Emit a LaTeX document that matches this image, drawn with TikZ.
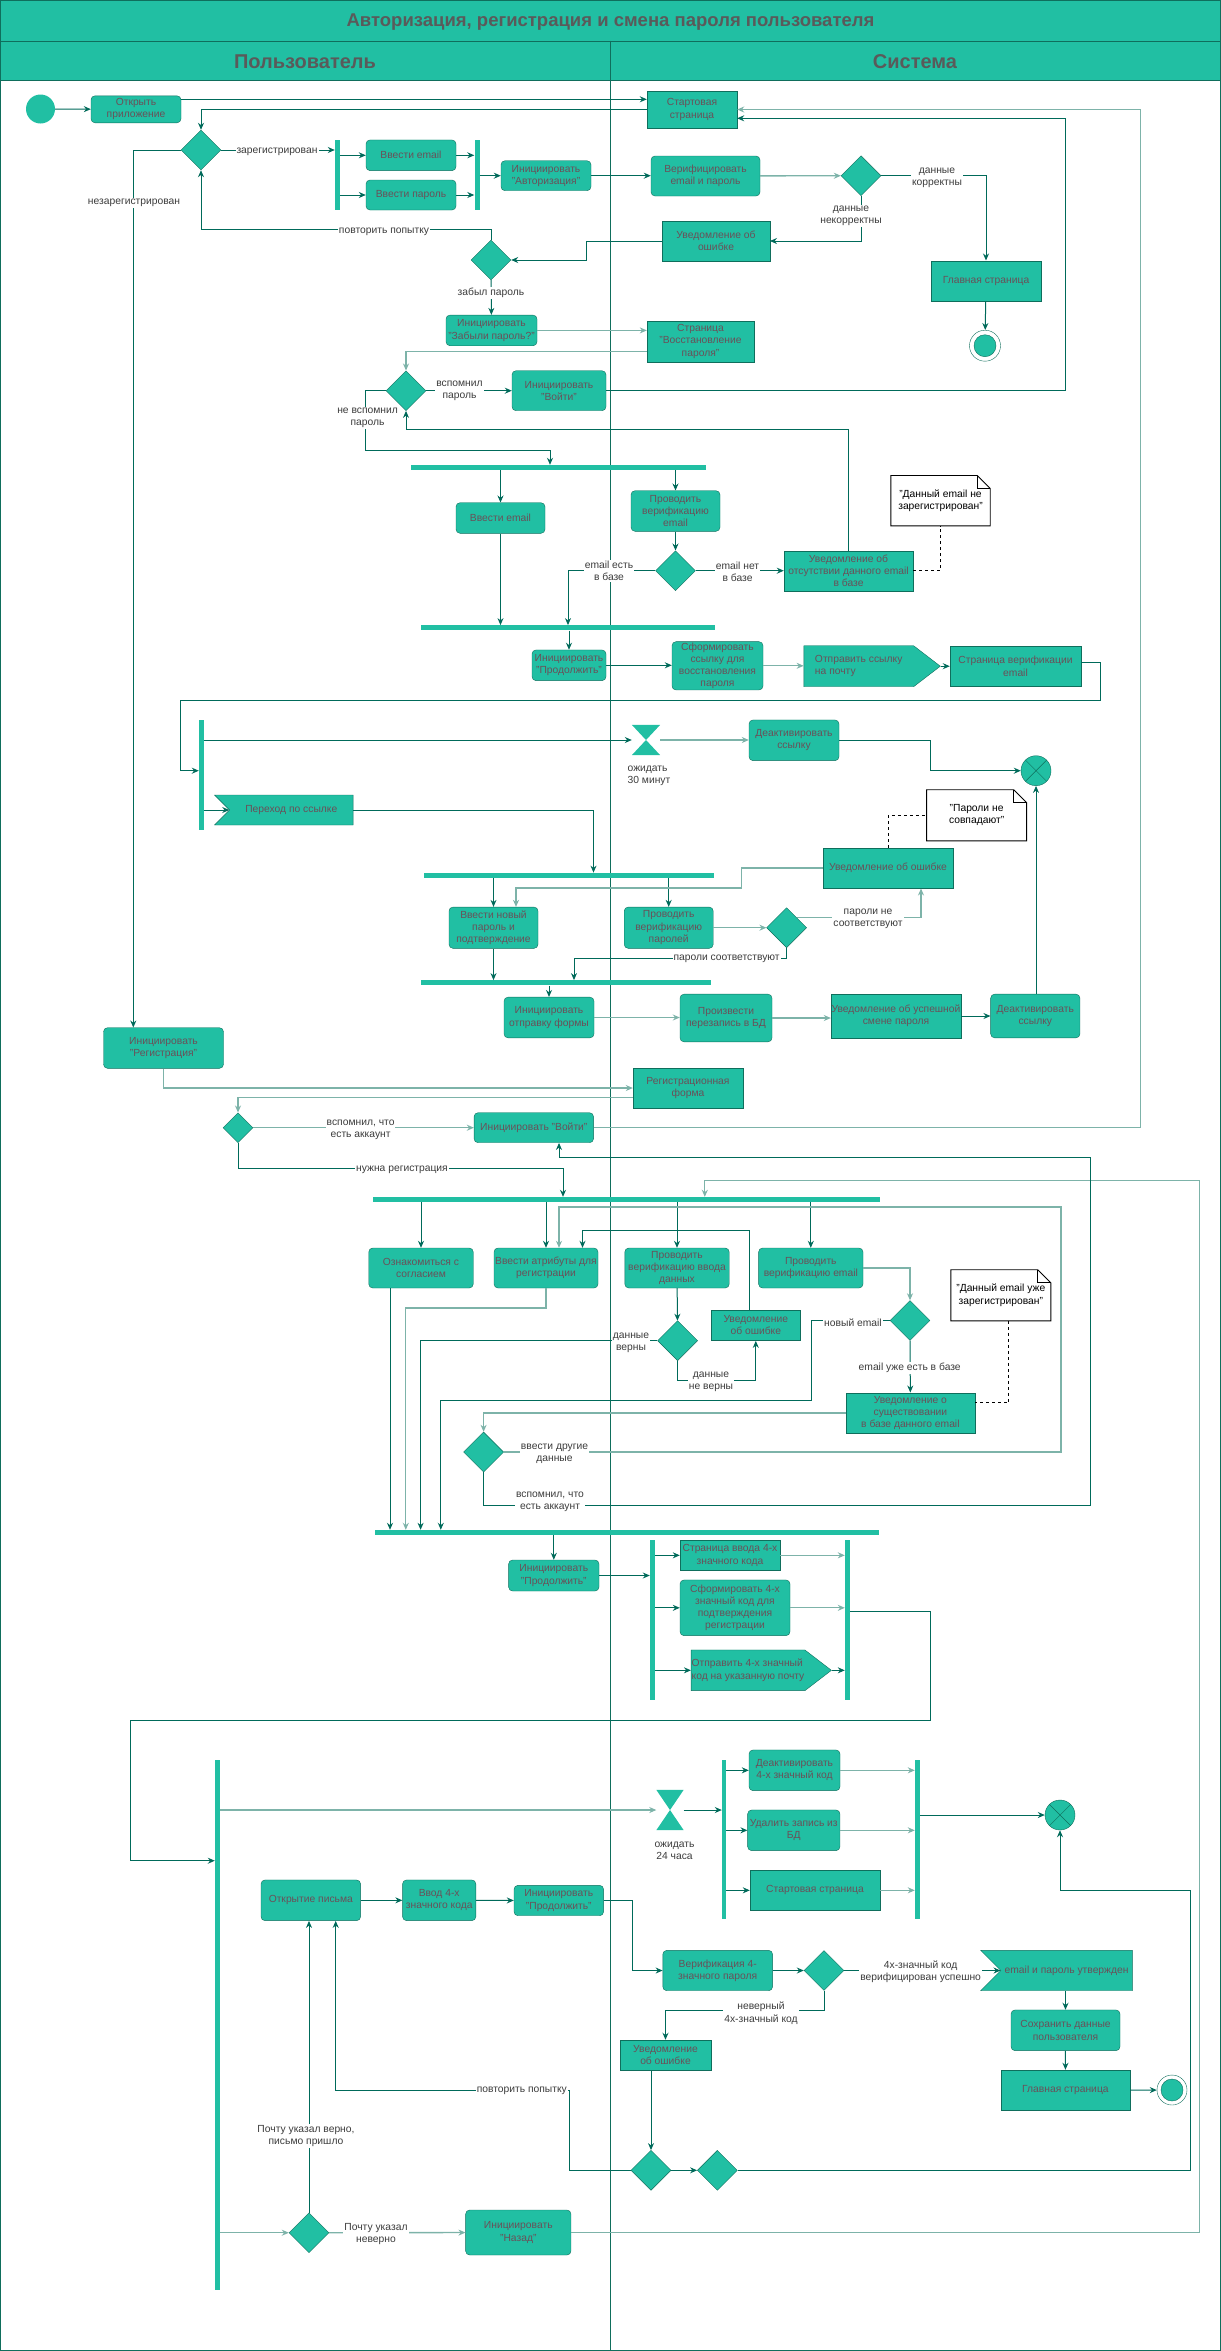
\documentclass[tikz,border=0pt]{standalone}
\usepackage{fontspec}
\setmainfont{Liberation Sans}
\usetikzlibrary{shapes.geometric,shapes.symbols,arrows.meta}
\definecolor{actfill}{HTML}{21BFA3}
\definecolor{actline}{HTML}{0F6E5C}
\definecolor{flowline}{HTML}{006A5A}
\definecolor{flowpale}{HTML}{7DB3A9}
\definecolor{acttext}{HTML}{6A5058}
\definecolor{headtext}{HTML}{5A5A5A}
\definecolor{lbltext}{HTML}{3C3C3C}

\begin{document}
\begin{tikzpicture}[x=1pt, y=-1pt,
  every node/.style={font=\fontsize{10.3}{12.3}\selectfont},
  act/.style 2 args={rectangle, rounded corners=4pt, draw=actline, fill=actfill, text=acttext,
    align=center, inner sep=0.5pt, minimum width=#1pt, minimum height=#2pt},
  sq/.style 2 args={rectangle, draw=actline, fill=actfill, text=acttext,
    align=center, inner sep=0.5pt, minimum width=#1pt, minimum height=#2pt},
  sendsig/.style 2 args={signal, signal to=east, signal from=nowhere, signal pointer angle=75,
    draw=actline, fill=actfill, text=acttext, align=left, inner sep=0.5pt,
    minimum width=#1pt, minimum height=#2pt},
  acceptsig/.style 2 args={signal, signal from=west, signal to=nowhere, signal pointer angle=90,
    draw=actline, fill=actfill, text=acttext, align=center, inner sep=0.5pt,
    minimum width=#1pt, minimum height=#2pt},
  dec/.style={diamond, aspect=1, draw=actline, fill=actfill, inner sep=0pt,
    minimum width=40pt, minimum height=40pt},
  bar/.style 2 args={rectangle, fill=actfill, inner sep=0pt, minimum width=#1pt, minimum height=#2pt},
  notebox/.style 2 args={rectangle, align=center, inner sep=1pt, minimum width=#1pt, minimum height=#2pt},
  wait/.style={rectangle, inner sep=0pt, minimum width=28pt, minimum height=30pt},
  final/.style={circle, draw=actline, fill=actfill, inner sep=0pt, minimum size=30pt},
  endnode/.style={circle, draw=actline, fill=white, inner sep=0pt, minimum size=31pt},
  flow/.style={draw=flowline, line width=1pt, -{Stealth[length=7pt,width=6pt]}},
  pale/.style={flow, draw=flowpale, line width=1.3pt},
  lbl/.style={fill=white, text=lbltext, align=center, inner sep=1pt}]
  \useasboundingbox (0,0) rectangle (1221,2351);
  % lanes and title
  \filldraw[draw=actline, fill=actfill] (0,0) rectangle (1221,40.7);
  \filldraw[draw=actline, fill=actfill] (0,40.7) rectangle (1221,80.3);
  \draw[actline] (610.6,40.7) -- (610.6,2351);
  \draw[actline, line width=1.5pt] (0,0) rectangle (1221,2351);
  \node[text=headtext, font=\bfseries\fontsize{18.5}{22}\selectfont] (title) at (610.5,22)
    {Авторизация, регистрация и смена пароля пользователя};
  \node[text=headtext, font=\bfseries\fontsize{20}{24}\selectfont] (user) at (305,62) {Пользователь};
  \node[text=headtext, font=\bfseries\fontsize{20}{24}\selectfont] (sys) at (915,62) {Система};

  % login
  \node[circle, fill=actfill, inner sep=0pt, minimum size=29pt] (init) at (40.5,109) {};
  \node[act={90}{27}] (open) at (136,109.3) {Открыть\\приложение};
  \node[sq={90}{37.6}] (start) at (692,109.5) {Стартовая\\страница};
  \node[dec] (dReg) at (201,150) {};
  \node[bar={5}{70}] (fEnter) at (337.5,175) {};
  \node[act={90}{30.7}] (inMail) at (411,155.3) {Ввести email};
  \node[act={90}{30}] (inPass) at (411,195) {Ввести пароль};
  \node[bar={5}{70}] (jEnter) at (477,175) {};
  \node[act={90}{30}] (auth) at (546,175.7) {Инициировать\\"Авторизация"};
  \node[act={109}{40}] (verAuth) at (705.5,176) {Верифицировать\\email и пароль};
  \node[dec] (dAuth) at (861,175.7) {};
  \node[sq={110}{40.6}] (main1) at (986,281) {Главная страница};
  \node[endnode] (end1) at (985,345.7) {};
  \filldraw[draw=actline, fill=actfill] (end1.center) circle[radius=11pt];
  \node[sq={107.5}{40.6}] (err1) at (716,241) {Уведомление об\\ошибке};
  \node[dec] (dRetry) at (491,260) {};
  \node[act={91}{30.7}] (forgot) at (491.5,330.4) {Инициировать\\"Забыли пароль?"};
  \node[sq={107}{41}] (restore) at (700.5,341.2) {Страница\\"Восстановление\\пароля"};
  \node[dec] (dRemember) at (406,390.7) {};
  \node[act={94}{40}] (login1) at (559,390.7) {Инициировать\\"Войти"};

  % password recovery
  \node[bar={295}{5}] (fMail) at (558.5,467.5) {};
  \node[act={89}{30.6}] (inMail2) at (500.5,518) {Ввести email};
  \node[act={89}{40.6}] (verMail) at (675.5,511) {Проводить\\верификацию\\email};
  \node[dec] (dMail) at (675.5,570.7) {};
  \node[sq={129}{40}] (noMail) at (848.5,570.7) {Уведомление об\\отсутствии данного email\\в базе};
  \node[notebox={99}{50}] (note1) at (940.5,500.7) {"Данный email не\\зарегистрирован"};
  \node[bar={294}{5}] (jMail) at (568,627.8) {};
  \node[act={74}{30.7}] (cont1) at (569,665.3) {Инициировать\\"Продолжить"};
  \node[act={91}{48.3}] (mkLink) at (717.5,665.8) {Сформировать\\ссылку для\\восстановления\\пароля};
  \node[sendsig={136.5}{41}] (sendLink) at (858.7,666.2) {Отправить ссылку\\на почту};
  \node[sq={131}{40.7}] (verPage) at (1015.5,666.3) {Страница верификации\\email};
  \node[bar={5}{110}] (fLink) at (201.5,775) {};
  \node[wait] (wait30) at (646,740) {};
  \node[act={90}{40.7}] (deact1) at (794,740.3) {Деактивировать\\ссылку};
  \node[final] (fin1) at (1036,770.7) {};
  \node[acceptsig={138.6}{30}] (follow) at (291.3,810) {Переход по ссылке};
  \node[bar={290}{5}] (fPass) at (568.5,875.3) {};
  \node[sq={130}{40.6}] (err2) at (888,868) {Уведомление об ошибке};
  \node[notebox={99.7}{50.7}] (note2) at (976.6,815.3) {"Пароли не\\совпадают"};
  \node[act={89}{41.3}] (newPass) at (493.5,927.7) {Ввести новый\\пароль и\\подтверждение};
  \node[act={89}{41.3}] (verPass) at (668.7,927.7) {Проводить\\верификацию\\паролей};
  \node[dec] (dPass) at (786.6,927.7) {};
  \node[bar={290}{5}] (jPass) at (565.8,982.8) {};
  \node[act={90}{40.7}] (submit) at (549,1017.5) {Инициировать\\отправку формы};
  \node[act={92}{47.7}] (rewrite) at (726,1018) {Произвести\\перезапись в БД};
  \node[sq={130}{43.7}] (okPass) at (896,1016) {Уведомление об успешной\\смене пароля};
  \node[act={89.3}{43.7}] (deact2) at (1035.3,1016) {Деактивировать\\ссылку};

  % registration
  \node[act={120}{40.6}] (reg) at (163.5,1048) {Инициировать\\"Регистрация"};
  \node[sq={110}{40.6}] (regForm) at (688,1088) {Регистрационная\\форма};
  \node[dec, minimum width=30pt, minimum height=30pt] (dHave) at (238,1127.7) {};
  \node[act={119.5}{30}] (login2) at (533.8,1127.7) {Инициировать "Войти"};
  \node[bar={507}{5}] (fReg) at (626.5,1199.5) {};
  \node[act={104.5}{40}] (agree) at (421,1268) {Ознакомиться с\\согласием};
  \node[act={104}{40}] (attrs) at (546,1268) {Ввести атрибуты для\\регистрации};
  \node[act={104.4}{40}] (verData) at (677,1268) {Проводить\\верификацию ввода\\данных};
  \node[act={104.4}{40}] (verMail2) at (810.8,1268) {Проводить\\верификацию email};
  \node[dec] (dData) at (677.6,1340.7) {};
  \node[sq={89.6}{30.7}] (err3) at (755.8,1325.3) {Уведомление\\об ошибке};
  \node[dec] (dNew) at (910,1320.5) {};
  \node[sq={129.2}{40.6}] (exists) at (910.4,1413) {Уведомление о\\существовании\\в базе данного email};
  \node[notebox={99.6}{50.7}] (note3) at (1000.8,1295.3) {"Данный email уже\\зарегистрирован"};
  \node[dec] (dOther) at (483.6,1452) {};
  \node[bar={504}{5}] (jReg) at (626.5,1532.5) {};
  \node[act={90.4}{31}] (cont2) at (553.8,1575.5) {Инициировать\\"Продолжить"};
  \node[bar={5}{160}] (fCode) at (652.5,1620) {};
  \node[sq={100}{30.7}] (codePage) at (730,1555.3) {Страница ввода 4-х\\значного кода};
  \node[act={110}{55.7}] (mkCode) at (735,1607.8) {Сформировать 4-х\\значный код для\\подтверждения\\регистрации};
  \node[sendsig={136}{40.7}] (sendCode) at (748,1670.3) {Отправить 4-х значный\\код на указанную почту};
  \node[bar={5}{160}] (jCode) at (847.5,1620) {};

  % confirmation code
  \node[bar={4.6}{530}] (fWait) at (217.3,2025) {};
  \node[wait, minimum width=27pt, minimum height=40pt] (wait24) at (670,1810) {};
  \node[bar={4}{159}] (fExp) at (724,1839.6) {};
  \node[act={91}{40.7}] (deactCode) at (794.5,1770.3) {Деактивировать\\4-х значный код};
  \node[act={92.3}{40.7}] (delRec) at (793.8,1830.3) {Удалить запись из\\БД};
  \node[sq={130}{40.7}] (start2) at (815,1890.3) {Стартовая страница};
  \node[bar={5}{159}] (jExp) at (917.5,1839.6) {};
  \node[final] (fin2) at (1060,1815) {};
  \node[act={99.6}{40.7}] (openMail) at (310.8,1900.3) {Открытие письма};
  \node[act={73.3}{40.7}] (inCode) at (439.2,1900.3) {Ввод 4-х\\значного кода};
  \node[act={89.6}{30.4}] (cont3) at (558.8,1900.5) {Инициировать\\"Продолжить"};
  \node[act={109.8}{40.4}] (verCode) at (717.7,1970.5) {Верификация 4-\\значного пароля};
  \node[dec] (dCode) at (824,1970.5) {};
  \node[acceptsig={151.8}{40.4}] (approved) at (1066.6,1970.5) {email и пароль утвержден};
  \node[act={109}{40.7}] (save) at (1065.5,2030.3) {Сохранить данные\\пользователя};
  \node[sq={129.2}{40.7}] (main2) at (1065.4,2090.3) {Главная страница};
  \node[endnode, minimum size=30pt] (end2) at (1172,2090) {};
  \filldraw[draw=actline, fill=actfill] (end2.center) circle[radius=11pt];
  \node[sq={91}{30.7}] (err4) at (665.5,2055.3) {Уведомление\\об ошибке};
  \node[dec] (dWrong) at (651,2170.3) {};
  \node[dec] (dMerge) at (717.3,2170.3) {};
  \node[dec] (dMailOk) at (309,2232.7) {};
  \node[act={105.3}{45}] (back) at (518.3,2232.5) {Инициировать\\"Назад"};

  % hourglasses, flow finals, notes
  \fill[actfill] (wait30.north west) -- (wait30.north east) -- (wait30.center) -- cycle;
  \fill[actfill] (wait30.south west) -- (wait30.south east) -- (wait30.center) -- cycle;
  \fill[actfill] (wait24.north west) -- (wait24.north east) -- (wait24.center) -- cycle;
  \fill[actfill] (wait24.south west) -- (wait24.south east) -- (wait24.center) -- cycle;
  \draw[actline] (fin1.north west) -- (fin1.south east) (fin1.north east) -- (fin1.south west);
  \draw[actline] (fin2.north west) -- (fin2.south east) (fin2.north east) -- (fin2.south west);
  \foreach \n in {note1,note2,note3} {
    \draw[black, line width=0.9pt] (\n.south west) -- (\n.north west) -- ([xshift=-13pt]\n.north east)
      -- ([yshift=-13pt]\n.north east) -- (\n.south east) -- cycle;
    \draw[black, line width=0.9pt] ([xshift=-13pt]\n.north east) -- ([xshift=-13pt,yshift=-13pt]\n.north east)
      -- ([yshift=-13pt]\n.north east);
  }

  % login flows
  \draw[flow] (init) -- (open);
  \draw[flow] ([yshift=10pt]open.east) -- ([yshift=10pt]open.east -| start.west);
  \draw[flow] (start.west) -| (dReg.north);
  \draw[flow] (dReg.east) -- (dReg.east -| fEnter.west);
  \draw[flow] (inMail.west -| fEnter.east) -- (inMail.west);
  \draw[flow] (inPass.west -| fEnter.east) -- (inPass.west);
  \draw[flow] (inMail.east) -- (inMail.east -| jEnter.west);
  \draw[flow] (inPass.east) -- (inPass.east -| jEnter.west);
  \draw[flow] (auth.west -| jEnter.east) -- (auth.west);
  \draw[flow] (auth.east) -- (auth.east -| verAuth.west);
  \draw[pale] (verAuth) -- (dAuth);
  \draw[flow] (dAuth.east) -| (main1.north);
  \draw[flow] (main1) -- (end1);
  \draw[flow] (dAuth.south) |- (err1.east);
  \draw[flow] (err1.west) -- ++(-76,0) |- (dRetry.east);
  \draw[flow] (dRetry.north) -- ++(0,-10) -| (dReg.south);
  \draw[flow] (dReg.west) -| ([xshift=30pt]reg.north west);
  \draw[flow] (dRetry) -- (forgot);
  \draw[pale] (forgot.east) -- (forgot.east -| restore.west);
  \draw[pale] ([yshift=-10pt]restore.west) -| (dRemember.north);
  \draw[flow] (dRemember) -- (login1);
  \draw[flow] (login1.east) -- ++(459,0) |- ([yshift=-8.8pt]start.east);

  % recovery flows
  \draw[flow] (noMail.north) -- ++(0,-120.7) -| (dRemember.south);
  \draw[flow] (dRemember.west) -- ++(-20,0) -- ++(0,60) -| ([xshift=-8.5pt]fMail.north);
  \draw[flow] (inMail2.north |- fMail.south) -- (inMail2.north);
  \draw[flow] (verMail.north |- fMail.south) -- (verMail.north);
  \draw[flow] (verMail) -- (dMail);
  \draw[flow] (dMail) -- (noMail);
  \draw[black, dashed, line width=0.9pt] (noMail.east) -| (note1.south);
  \draw[flow] (dMail.west) -| (jMail.north);
  \draw[flow] (inMail2.south) -- (inMail2.south |- jMail.north);
  \draw[flow] (cont1.north |- jMail.south) -- (cont1.north);
  \draw[flow] (cont1.east) -- (cont1.east -| mkLink.west);
  \draw[pale] (mkLink.east) -- (mkLink.east -| sendLink.west);
  \draw[flow] (sendLink.east) -- (sendLink.east -| verPage.west);
  \draw[flow] ([yshift=4pt]verPage.east) -- ++(19,0) |- (180,700) |- ([yshift=4.3pt]fLink.west);
  \draw[flow] (wait30.west -| fLink.east) -- (wait30.west);
  \draw[pale] (wait30.east) -- (wait30.east -| deact1.west);
  \draw[flow] (deact1.east) -- ++(91.7,0) |- (fin1.west);
  \draw[flow] (follow.west -| fLink.east) -- (follow.west);
  \draw[flow] (follow.east) -| ([xshift=25pt]fPass.north);
  \draw[flow] (newPass.north |- fPass.south) -- (newPass.north);
  \draw[flow] (verPass.north |- fPass.south) -- (verPass.north);
  \draw[pale] (err2.west) -- ++(-81,0) -- ++(0,20) -| ([xshift=22.5pt]newPass.north);
  \draw[black, dashed, line width=0.9pt] (err2.north) |- (note2.west);
  \draw[pale] (verPass) -- (dPass);
  \draw[pale] (dPass.north east) -| ([xshift=33pt]err2.south);
  \draw[flow] (dPass.south) -- ++(0,10.6) -| ([xshift=8.2pt]jPass.north);
  \draw[flow] (newPass.south) -- (newPass.south |- jPass.north);
  \draw[flow] (submit.north |- jPass.south) -- (submit.north);
  \draw[pale] (submit.east) -- (submit.east -| rewrite.west);
  \draw[pale] (rewrite.east) -- (rewrite.east -| okPass.west);
  \draw[flow] (okPass.east) -- (okPass.east -| deact2.west);
  \draw[flow] (fin1.south |- deact2.north) -- (fin1.south);

  % registration flows
  \draw[pale] (reg.south) |- (regForm.west);
  \draw[pale] ([yshift=-9.7pt]regForm.west) -| (dHave.north);
  \draw[pale] (dHave) -- (login2);
  \draw[pale] (login2.east) -- ++(546.5,0) |- (start.east);
  \draw[flow] (dHave.south) -- ++(0,25.6) -| ([xshift=-63.5pt]fReg.north);
  \draw[pale] (back.east) -- ++(628.4,0) -- ++(0,-1052.2) -| ([xshift=78.3pt]fReg.north);
  \foreach \n in {agree,attrs,verData,verMail2}
    \draw[flow] (\n.north |- fReg.south) -- (\n.north);
  \draw[flow] (verData) -- (dData);
  \draw[flow] (dData.south) -- ++(0,19.3) -| (err3.south);
  \draw[flow] ([xshift=-6.8pt]err3.north) -- ++(0,-79.7) -| ([xshift=36.5pt]attrs.north);
  \draw[flow] (dData.west) -| ([xshift=-205.9pt]jReg.north);
  \draw[flow] ([xshift=-31pt]agree.south) -- ([xshift=-31pt]agree.south |- jReg.north);
  \draw[pale] (attrs.south) -- ++(0,19.7) -| ([xshift=-220.7pt]jReg.north);
  \draw[flow] (dNew.west) -- ++(-78.2,0) -- ++(0,79.5) -| ([xshift=-185.7pt]jReg.north);
  \draw[pale] (verMail2.east) -| (dNew.north);
  \draw[flow] (dNew) -- (exists);
  \draw[black, dashed, line width=0.9pt] ([xshift=8pt]note3.south) |- ([yshift=10.3pt]exists.east);
  \draw[pale] (exists.west) -| (dOther.north);
  \draw[pale] (dOther.east) -- ++(557.2,0) -- ++(0,-245) -| ([xshift=13pt]attrs.north);
  \draw[flow] (dOther.south) -- ++(0,33) -- ++(606.4,0) -- ++(0,-347.7) -| ([xshift=25.2pt]login2.south);
  \draw[flow] (cont2.north |- jReg.south) -- (cont2.north);
  \draw[flow] (cont2.east) -- (cont2.east -| fCode.west);
  \foreach \n in {codePage,mkCode,sendCode}
    \draw[flow] (\n.west -| fCode.east) -- (\n.west);
  \draw[pale] (codePage.east) -- (codePage.east -| jCode.west);
  \draw[pale] (mkCode.east) -- (mkCode.east -| jCode.west);
  \draw[flow] (sendCode.east) -- (sendCode.east -| jCode.west);
  \draw[flow] ([yshift=8.3pt]jCode.east) -- ++(80.7,0) -- ++(0,108.3) -- ++(-800.7,0)
    |- ([yshift=164.3pt]fWait.west);

  % code flows
  \draw[pale] (wait24.west -| fWait.east) -- (wait24.west);
  \draw[flow] (wait24.east) -- (wait24.east -| fExp.west);
  \foreach \n in {deactCode,delRec,start2}
    \draw[flow] (\n.west -| fExp.east) -- (\n.west);
  \foreach \n in {deactCode,delRec,start2}
    \draw[pale] (\n.east) -- (\n.east -| jExp.west);
  \draw[flow] (fin2.west -| jExp.east) -- (fin2.west);
  \draw[flow] (openMail) -- (inCode);
  \draw[flow] (inCode) -- (cont3);
  \draw[flow] (cont3.east) -- ++(28.8,0) |- (verCode.west);
  \draw[flow] (verCode) -- (dCode);
  \draw[flow] (dCode) -- (approved.west);
  \draw[flow] (approved.south -| save.north) -- (save.north);
  \draw[flow] (save) -- (main2);
  \draw[flow] (main2) -- (end2);
  \draw[flow] (dCode.south) -- ++(0,19.5) -| (err4.north);
  \draw[flow] ([xshift=-14.5pt]err4.south) -- (dWrong.north);
  \draw[flow] (dWrong) -- (dMerge);
  \draw[flow] (dMerge.east) -- ++(452.7,0) -- ++(0,-280.3) -| (fin2.south);
  \draw[flow] (dWrong.west) -- ++(-61.4,0) -- ++(0,-79.6) -| ([xshift=24.9pt]openMail.south);
  \draw[pale] (dMailOk.west -| fWait.east) -- (dMailOk.west);
  \draw[flow] (dMailOk.north) -- (dMailOk.north |- openMail.south);
  \draw[pale] (dMailOk) -- (back);

  % labels
  \node[lbl] (lReg) at (277,152) {зарегистрирован};
  \node[lbl] (lUnreg) at (134,203) {незарегистрирован};
  \node[lbl] (lOk) at (937,178) {данные\\корректны};
  \node[lbl] (lBad) at (851,216) {данные\\некорректны};
  \node[lbl] (lRetry1) at (384,232) {повторить попытку};
  \node[lbl] (lForgot) at (491,293) {забыл пароль};
  \node[lbl] (lRem) at (459.5,391) {вспомнил\\пароль};
  \node[lbl] (lNoRem) at (367.6,418) {не вспомнил\\пароль};
  \node[lbl] (lHas) at (609,571) {email есть\\в базе};
  \node[lbl] (lNo) at (737.5,572) {email нет\\в базе};
  \node[text=lbltext, align=left] (l30) at (649,776) {ожидать\\30 минут};
  \node[lbl] (lNeq) at (868,919) {пароли не\\соответствуют};
  \node[lbl] (lEq) at (726.6,959) {пароли соответствуют};
  \node[lbl] (lAcc1) at (360.6,1130) {вспомнил, что\\есть аккаунт};
  \node[lbl] (lNeed) at (402,1170) {нужна регистрация};
  \node[lbl] (lDataOk) at (631,1343) {данные\\верны};
  \node[lbl] (lDataBad) at (711,1382) {данные\\не верны};
  \node[lbl] (lNewMail) at (853,1322.7) {новый email};
  \node[lbl] (lExists) at (909.7,1367.7) {email уже есть в базе};
  \node[lbl] (lOther) at (554.5,1454) {ввести другие\\данные};
  \node[lbl] (lAcc2) at (550,1501.7) {вспомнил, что\\есть аккаунт};
  \node[text=lbltext, align=center] (l24) at (674.5,1851) {ожидать\\24 часа};
  \node[lbl] (lCodeOk) at (920.6,1971.7) {4х-значный код\\верифицирован успешно};
  \node[lbl] (lCodeBad) at (761,2013.3) {неверный\\4х-значный код};
  \node[lbl] (lRetry2) at (521.8,2090.7) {повторить попытку};
  \node[lbl] (lMailOk) at (306,2136) {Почту указал верно,\\письмо пришло};
  \node[lbl] (lMailBad) at (376,2234.3) {Почту указал\\неверно};
\end{tikzpicture}
\end{document}
